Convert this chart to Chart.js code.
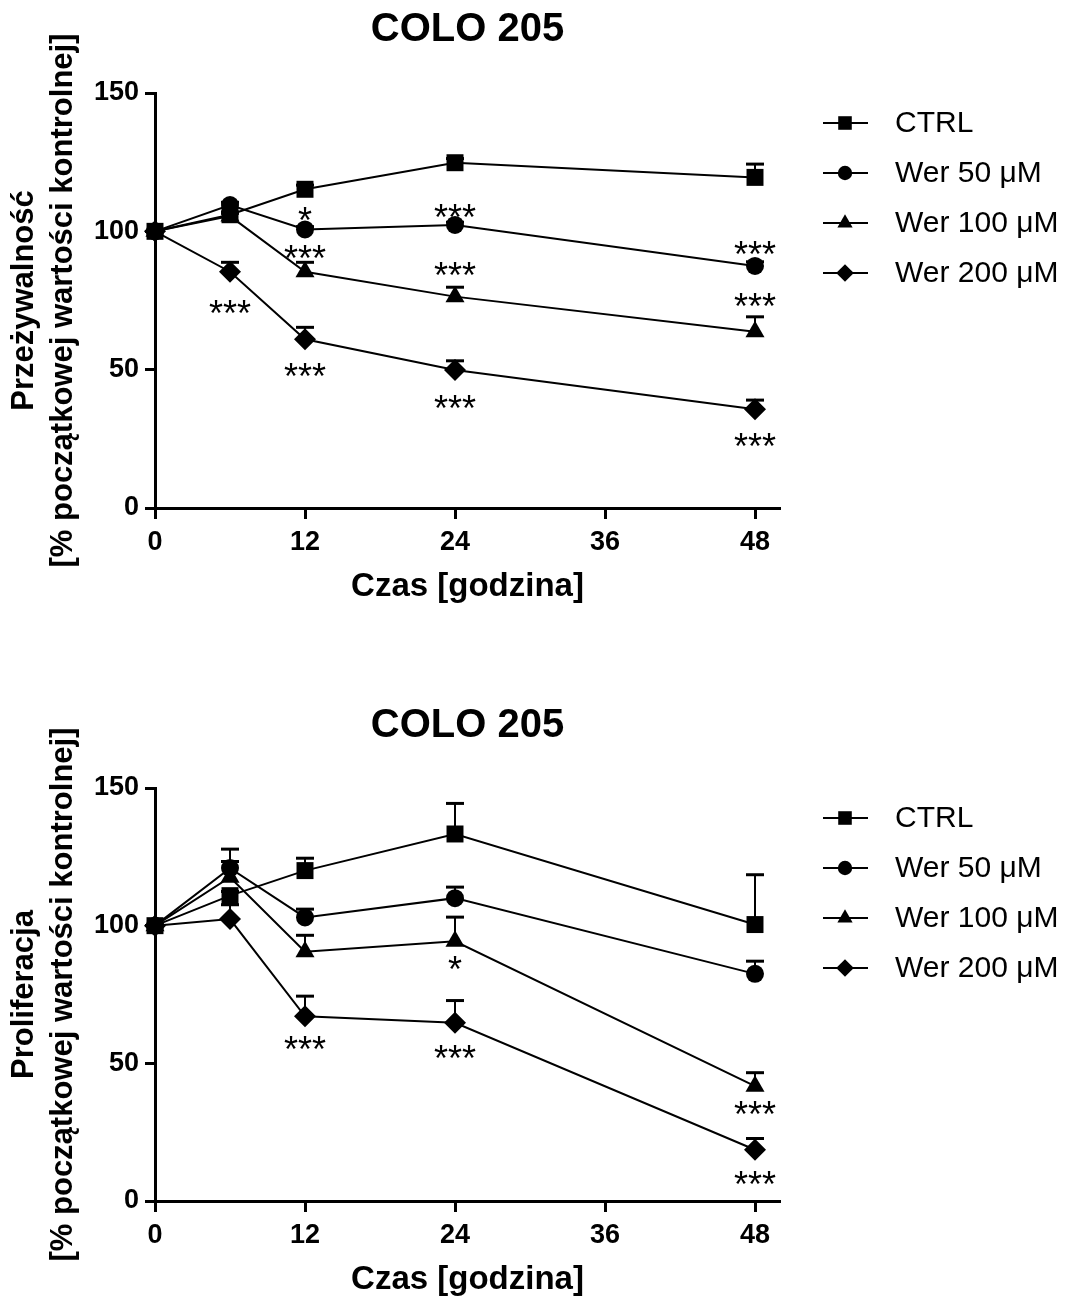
<!DOCTYPE html>
<html>
<head>
<meta charset="utf-8">
<script src="https://cdn.jsdelivr.net/npm/chart.js@4/dist/chart.umd.min.js"></script>
<style>
  html, body { margin: 0; padding: 0; background: #fff; overflow: hidden; }
  .wrap { position: absolute; left: 0; width: 1087px; }
  canvas { display: block; }
</style>
</head>
<body>
<div class="wrap" style="top:0px;height:650px;"><canvas id="c1" width="1087" height="650"></canvas></div>
<div class="wrap" style="top:695px;height:605px;"><canvas id="c2" width="1087" height="605"></canvas></div>
<script>
// ---------- DATA ----------
const times = [0, 6, 12, 24, 48];
const xTicks = [0, 12, 24, 36, 48];
const yTicks = [0, 50, 100, 150];
const seriesNames = ['CTRL', 'Wer 50 \u03BCM', 'Wer 100 \u03BCM', 'Wer 200 \u03BCM'];
const chartTitle = 'COLO 205';
const xTitle = 'Czas [godzina]';
const yTitleSurv = ['Prze\u017Cywalno\u015B\u0107', '[% pocz\u0105tkowej warto\u015Bci kontrolnej]'];
const yTitleProl = ['Proliferacja', '[% pocz\u0105tkowej warto\u015Bci kontrolnej]'];

// Chart 1: survival
const survCtrl    = [100, 106.0, 115.2, 124.8, 119.5];
const survCtrlErr = [0, 1.0, 1.5, 1.5, 4.8];
const survW50     = [100, 109.5, 100.7, 102.3, 87.5];
const survW50Err  = [0, 1.0, 1.0, 1.0, 1.5];
const survW100    = [100, 105.5, 85.4, 76.4, 63.7];
const survW100Err = [0, 1.0, 3.4, 3.4, 5.4];
const survW200    = [100, 85.4, 61.0, 49.9, 35.7];
const survW200Err = [0, 3.4, 4.3, 3.3, 3.3];
const survStars = [
  [12, 107.0, '*'], [24, 108.1, '***'], [12, 93.3, '***'], [6, 73.5, '***'],
  [24, 87.1, '***'], [48, 94.7, '***'], [48, 75.7, '***'],
  [12, 50.4, '***'], [24, 38.9, '***'], [48, 25.1, '***']
];

// Chart 2: proliferation
const prolCtrl    = [100, 110.9, 120.0, 133.3, 100.4];
const prolCtrlErr = [0, 1.5, 4.5, 11.1, 18.1];
const prolW50     = [100, 120.9, 103.0, 110.0, 82.5];
const prolW50Err  = [0, 6.9, 3.0, 4.0, 4.6];
const prolW100    = [100, 117.6, 90.5, 94.3, 41.7];
const prolW100Err = [0, 5.7, 6.0, 8.8, 4.9];
const prolW200    = [100, 102.4, 67.1, 64.7, 18.6];
const prolW200Err = [0, 5.2, 7.3, 8.1, 4.1];
const prolStars = [
  [24, 87.1, '*'], [12, 58.1, '***'], [24, 54.8, '***'], [48, 34.5, '***'], [48, 9.2, '***']
];

// ---------- STYLE ----------
const FAM = "'Liberation Sans', Arial, Helvetica, sans-serif";
const pointStyles = ['rect', 'circle', 'triangle', 'rectRot'];
const pointRadii = [12, 9, 11, 11];

function drawMarker(ctx, style, x, y, r) {
  ctx.beginPath();
  if (style === 'rect') {
    const s = Math.SQRT1_2 * r;
    ctx.rect(x - s, y - s, 2 * s, 2 * s);
  } else if (style === 'circle') {
    ctx.arc(x, y, r, 0, Math.PI * 2);
  } else if (style === 'triangle') {
    ctx.moveTo(x, y - r);
    ctx.lineTo(x + r * Math.sin(Math.PI * 2 / 3), y - r * Math.cos(Math.PI * 2 / 3));
    ctx.lineTo(x - r * Math.sin(Math.PI * 2 / 3), y - r * Math.cos(Math.PI * 2 / 3));
    ctx.closePath();
  } else {
    ctx.moveTo(x, y - r); ctx.lineTo(x + r, y); ctx.lineTo(x, y + r); ctx.lineTo(x - r, y); ctx.closePath();
  }
  ctx.fill();
}

const extrasPlugin = {
  id: 'extras',
  beforeDatasetsDraw(chart) {
    const ctx = chart.ctx, xs = chart.scales.x, ys = chart.scales.y;
    ctx.save();
    ctx.strokeStyle = '#000';
    chart.data.datasets.forEach(ds => {
      ds.err.forEach((e, i) => {
        if (!e) return;
        const x = xs.getPixelForValue(ds.data[i].x);
        const y0 = ys.getPixelForValue(ds.data[i].y);
        const y1 = ys.getPixelForValue(ds.data[i].y + e);
        ctx.lineWidth = 2;
        ctx.beginPath(); ctx.moveTo(x, y0); ctx.lineTo(x, y1); ctx.stroke();
        ctx.lineWidth = 3;
        ctx.beginPath(); ctx.moveTo(x - 9, y1); ctx.lineTo(x + 9, y1); ctx.stroke();
      });
    });
    ctx.restore();
  },
  afterDatasetsDraw(chart) {
    const ctx = chart.ctx, xs = chart.scales.x, ys = chart.scales.y;
    const opts = chart.options.plugins.extras;
    const area = chart.chartArea;
    ctx.save();
    ctx.fillStyle = '#000';
    // chart title, centred over the plot area
    ctx.font = 'bold 40px ' + FAM;
    ctx.textAlign = 'center';
    ctx.textBaseline = 'middle';
    ctx.fillText(opts.title, (area.left + area.right) / 2, opts.titleY);
    // significance stars
    const fs = 36;
    ctx.font = fs + 'px ' + FAM;
    ctx.textBaseline = 'alphabetic';
    (opts.stars || []).forEach(s => {
      ctx.fillText(s[2], xs.getPixelForValue(s[0]), ys.getPixelForValue(s[1]) + 0.58 * fs);
    });
    // legend
    ctx.font = '30px ' + FAM;
    ctx.textAlign = 'left';
    ctx.textBaseline = 'middle';
    chart.data.datasets.forEach((ds, i) => {
      const y = area.top + 30 + i * 50;
      const x0 = area.right + 43;
      ctx.strokeStyle = '#000';
      ctx.lineWidth = 2;
      ctx.beginPath(); ctx.moveTo(x0, y); ctx.lineTo(x0 + 45, y); ctx.stroke();
      drawMarker(ctx, ds.pointStyle, x0 + 22, y, ds.pointRadius * 0.8);
      ctx.fillText(ds.label, area.right + 115, y + 1);
    });
    ctx.restore();
  }
};

function makeChart(id, series, errs, yTitle, stars, titleY, padBottom) {
  const datasets = series.map((vals, k) => ({
    label: seriesNames[k],
    data: times.map((t, i) => ({ x: t, y: vals[i] })),
    err: errs[k],
    borderColor: '#000',
    backgroundColor: '#000',
    borderWidth: 2,
    pointStyle: pointStyles[k],
    pointRadius: pointRadii[k],
    pointBorderWidth: 0,
    pointBackgroundColor: '#000',
    pointHoverRadius: pointRadii[k],
    tension: 0,
    clip: false
  }));
  const tickFont = { family: FAM, size: 27, weight: 'bold' };
  return new Chart(document.getElementById(id), {
    type: 'line',
    data: { datasets },
    plugins: [extrasPlugin],
    options: {
      responsive: false,
      animation: false,
      devicePixelRatio: 1,
      events: [],
      layout: { padding: { left: 0, right: 307, top: 93, bottom: padBottom } },
      plugins: {
        legend: { display: false },
        tooltip: { enabled: false },
        title: { display: false },
        extras: { stars, title: chartTitle, titleY }
      },
      scales: {
        x: {
          type: 'linear', min: 0, max: 50,
          afterBuildTicks: s => { s.ticks = xTicks.map(v => ({ value: v })); },
          afterFit: s => { s.height = 99; },
          ticks: { font: tickFont, color: '#000', padding: 7, maxRotation: 0, autoSkip: false },
          grid: { drawOnChartArea: false, drawTicks: true, tickLength: 11, tickWidth: 3, tickColor: '#000' },
          border: { display: true, color: '#000', width: 3 },
          title: {
            display: true, text: xTitle, color: '#000',
            font: { family: FAM, size: 33, weight: 'bold', lineHeight: 1.2 },
            padding: { top: 0, bottom: 0 }
          }
        },
        y: {
          type: 'linear', min: 0, max: 150,
          afterBuildTicks: s => { s.ticks = yTicks.map(v => ({ value: v })); },
          afterFit: s => { s.width = 155; },
          ticks: { font: tickFont, color: '#000', padding: 6 },
          grid: { drawOnChartArea: false, drawTicks: true, tickLength: 10, tickWidth: 3, tickColor: '#000' },
          border: { display: true, color: '#000', width: 3 },
          title: {
            display: true, text: yTitle, color: '#000',
            font: { family: FAM, size: 31, weight: 'bold', lineHeight: 1.26 },
            padding: { top: 5, bottom: 0 }
          }
        }
      }
    }
  });
}

makeChart('c1',
  [survCtrl, survW50, survW100, survW200],
  [survCtrlErr, survW50Err, survW100Err, survW200Err],
  yTitleSurv, survStars, 30, 43);

makeChart('c2',
  [prolCtrl, prolW50, prolW100, prolW200],
  [prolCtrlErr, prolW50Err, prolW100Err, prolW200Err],
  yTitleProl, prolStars, 31, 0);
</script>
</body>
</html>
